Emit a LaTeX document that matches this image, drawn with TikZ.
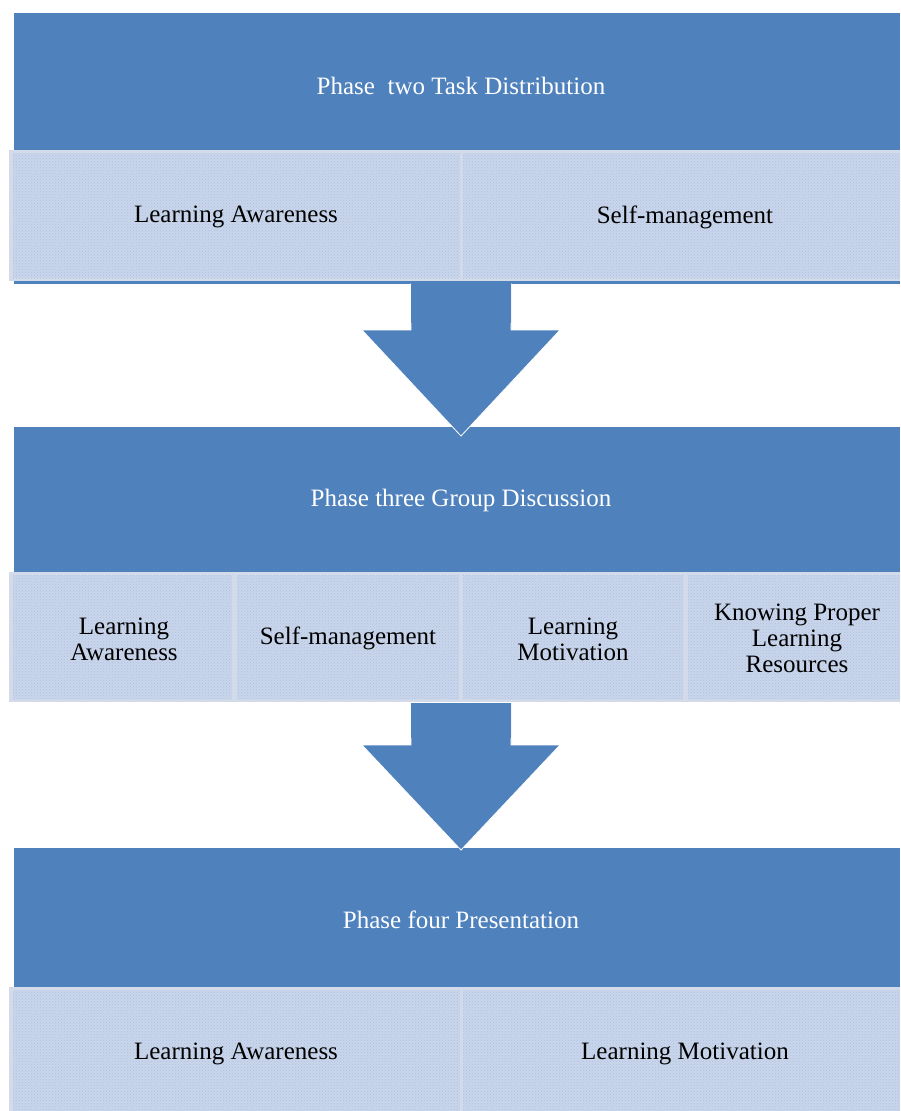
\documentclass[tikz,border=0pt]{standalone}
\usepackage{fontspec}
\setmainfont{Liberation Serif}
\usetikzlibrary{patterns,calc}
\definecolor{hdrblue}{HTML}{4F81BD}
\definecolor{rowbg}{HTML}{D3DBEB}
\definecolor{cellfill}{HTML}{C9D5EA}
\definecolor{dotc}{HTML}{ADC1E2}
\begin{document}
\begin{tikzpicture}[x=1pt,y=-1pt,
  hdr/.style={fill=hdrblue,draw=none},
  rowbox/.style={fill=rowbg,draw=none},
  cell/.style={fill=cellfill,draw=none,postaction={pattern=crosshatch dots,pattern color=dotc}},
  ttl/.style={text=white,font=\fontsize{25pt}{26pt}\selectfont,align=center},
  lbl/.style={text=black,font=\fontsize{25pt}{26pt}\selectfont,align=center},
  blockarrow/.style={fill=hdrblue,draw=white,line width=0.8pt,line join=miter}]
\useasboundingbox (0,0) rectangle (900,1111);
\fill[white] (0,0) rectangle (900,1111);

% ---------- Phase two ----------
\fill[hdr] (14,13) rectangle (900,284);
\node[ttl] (t2) at (461,86) {Phase\ \ two Task Distribution};
\fill[rowbox] (9,150) rectangle (900,281);
\fill[cell] (13,153) rectangle (460,278);
\fill[cell] (463,153) rectangle (900,278);
\node[lbl] (r1a) at (236,217) {Learning Awareness};
\node[lbl] (r1b) at (685,217) {Self-management};

% ---------- Phase three ----------
\fill[hdr] (14,427) rectangle (900,573);
\node[ttl] (t3) at (461,500) {Phase three Group Discussion};
\fill[rowbox] (9,572) rectangle (900,702);
\fill[cell] (13,575) rectangle (232,699);
\fill[cell] (237,575) rectangle (459,699);
\fill[cell] (463,575) rectangle (683,699);
\fill[cell] (688,575) rectangle (900,699);
\node[lbl] (r2a) at (124,639) {Learning\\Awareness};
\node[lbl] (r2b) at (348,638) {Self-management};
\node[lbl] (r2c) at (573,639) {Learning\\Motivation};
\node[lbl] (r2d) at (797,638) {Knowing Proper\\Learning\\Resources};

% ---------- Phase four ----------
\fill[hdr] (14,848) rectangle (900,988);
\node[ttl] (t4) at (461,920) {Phase four Presentation};
\fill[rowbox] (9,987) rectangle (900,1111);
\fill[cell] (13,990) rectangle (460,1111);
\fill[cell] (463,990) rectangle (900,1111);
\node[lbl] (r3a) at (236,1054) {Learning Awareness};
\node[lbl] (r3b) at (685,1054) {Learning Motivation};

% ---------- Block arrows ----------
\coordinate (a1) at (461,283);
\coordinate (a1tip) at (461,436);
\draw[blockarrow] ($(a1)+(-50,0)$) -- ($(a1)+(-50,47)$) -- ($(a1)+(-99,47)$) -- (a1tip)
  -- ($(a1)+(99,47)$) -- ($(a1)+(50,47)$) -- ($(a1)+(50,0)$);
\fill[hdrblue] ($(a1)+(-50,-1)$) rectangle ($(a1)+(50,40)$);

\coordinate (a2) at (461,703);
\coordinate (a2tip) at (461,850);
\draw[blockarrow] ($(a2)+(-50,0)$) -- ($(a2)+(-50,42)$) -- ($(a2)+(-99,42)$) -- (a2tip)
  -- ($(a2)+(99,42)$) -- ($(a2)+(50,42)$) -- ($(a2)+(50,0)$);
\fill[hdrblue] ($(a2)+(-50,0)$) rectangle ($(a2)+(50,35)$);
\end{tikzpicture}
\end{document}
